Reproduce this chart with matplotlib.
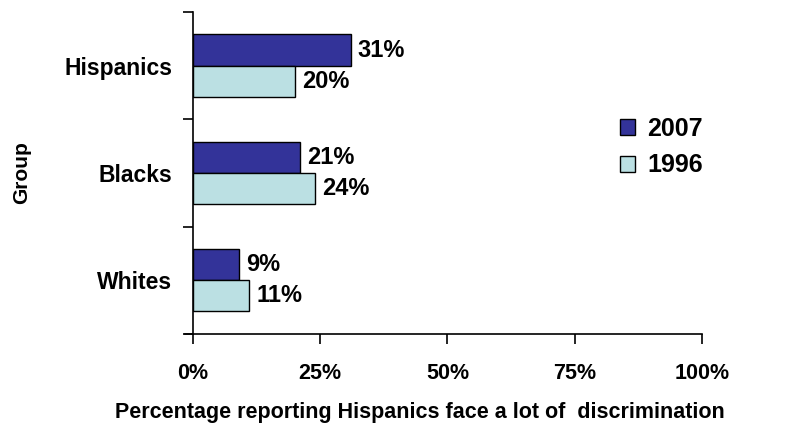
import numpy as np
import matplotlib.pyplot as plt

plt.rcParams['font.family'] = ['Liberation Sans', 'DejaVu Sans']
plt.rcParams['font.weight'] = 'bold'

groups = ['Whites', 'Blacks', 'Hispanics']
vals_2007 = [9, 21, 31]
vals_1996 = [11, 24, 20]
xticks = [0, 25, 50, 75, 100]

fig = plt.figure(figsize=(7.86, 4.26), dpi=100)
ax = fig.add_axes([0.2455, 0.216, 0.6475, 0.756])

y = np.arange(len(groups))
h = 0.29
b1 = ax.barh(y + h / 2, vals_2007, height=h, color='#333399', edgecolor='black', linewidth=1, label='2007')
b2 = ax.barh(y - h / 2, vals_1996, height=h, color='#BBE0E3', edgecolor='black', linewidth=1, label='1996')

for bars, vals in [(b1, vals_2007), (b2, vals_1996)]:
    for bar, v in zip(bars, vals):
        ax.text(v + 1.4, bar.get_y() + bar.get_height() / 2, f'{v}%',
                va='center', ha='left', fontsize=17, fontweight='bold')

ax.set_xlim(0, 100)
ax.set_ylim(-0.5, 2.5)
ax.set_xticks(xticks)
ax.set_xticklabels([f'{t}%' for t in xticks], fontsize=15.5, fontweight='bold')
ax.tick_params(axis='x', length=7, width=1.2, pad=14)

ax.set_yticks([-0.5, 0.5, 1.5, 2.5])
ax.set_yticklabels([])
ax.set_yticks(y, minor=True)
ax.set_yticklabels(groups, minor=True, fontsize=16.5, fontweight='bold')
ax.tick_params(axis='y', which='major', length=7, width=1.2)
ax.tick_params(axis='y', which='minor', length=0, pad=15)

for s in ['top', 'right']:
    ax.spines[s].set_visible(False)
ax.spines['left'].set_linewidth(1.2)
ax.spines['bottom'].set_linewidth(1.2)
ax.spines['bottom'].set_bounds(-1.5, 100)

ax.set_xlabel('Percentage reporting Hispanics face a lot of  discrimination',
              fontsize=15.5, fontweight='bold')
ax.xaxis.set_label_coords(0.446, -0.212)
ax.set_ylabel('Group', fontsize=15, fontweight='bold', labelpad=24)

ax.legend(handles=[b1, b2], loc='center left', bbox_to_anchor=(0.839, 0.58),
          frameon=False, handlelength=0.6, handleheight=0.6, borderpad=0,
          borderaxespad=0, labelspacing=0.5, handletextpad=0.5,
          prop={'weight': 'bold', 'size': 18})

fig.savefig('out.png', dpi=100)
